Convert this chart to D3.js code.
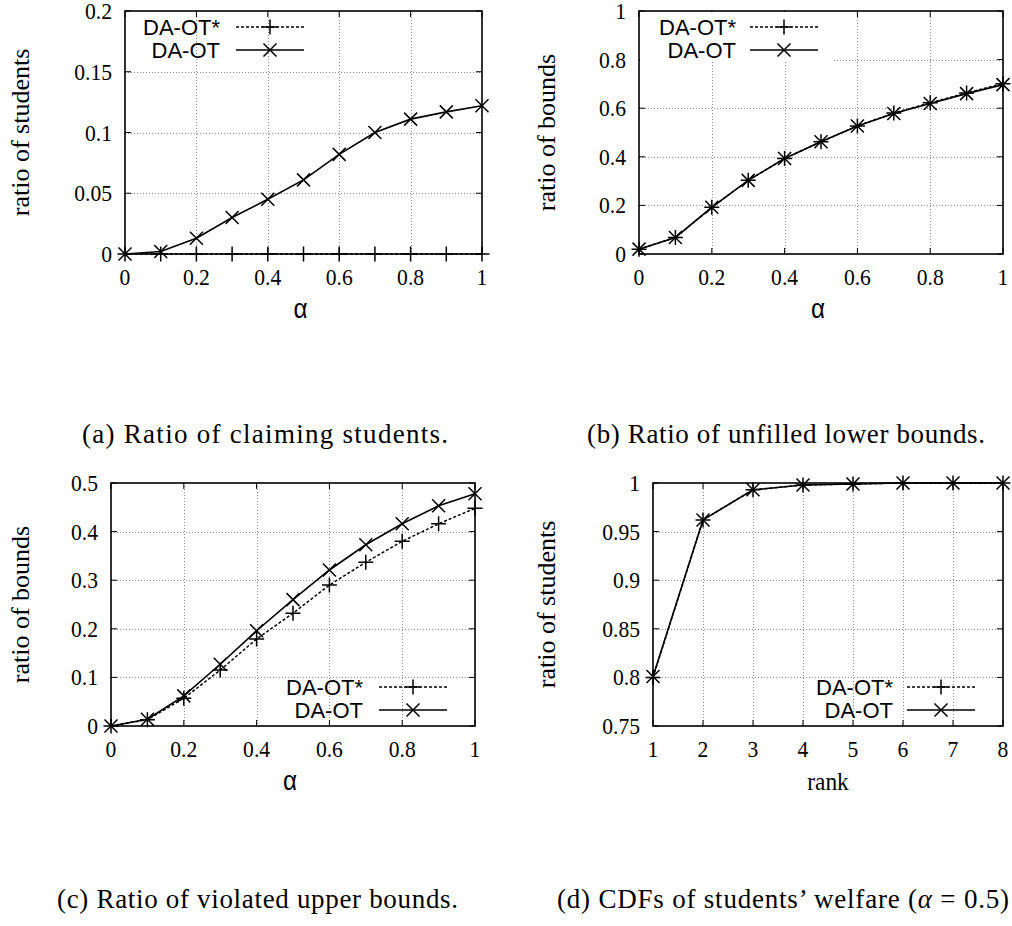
<!DOCTYPE html>
<html>
<head>
<meta charset="utf-8">
<script src="https://cdn.jsdelivr.net/npm/d3@7"></script>
<style>
  body { margin: 0; background: #fff; }
  svg { display: block; }
</style>
</head>
<body>
<div id="chart"></div>
<script>
/***********************************************************************/
//Data
/***********************************************************************/
const alphas = [0, 0.1, 0.2, 0.3, 0.4, 0.5, 0.6, 0.7, 0.8, 0.9, 1]
const ranks = [1, 2, 3, 4, 5, 6, 7, 8]

// (a) ratio of claiming students
const claimOTStar = [0, 0, 0, 0, 0, 0, 0, 0, 0, 0, 0]
const claimOT = [0, 0.002, 0.013, 0.030, 0.045, 0.061, 0.082, 0.100, 0.111, 0.117, 0.122]

// (b) ratio of unfilled lower bounds
const unfilledOTStar = [0.020, 0.068, 0.192, 0.303, 0.393, 0.462, 0.527, 0.580, 0.622, 0.663, 0.701]
const unfilledOT = [0.020, 0.068, 0.192, 0.303, 0.393, 0.462, 0.527, 0.578, 0.619, 0.660, 0.697]

// (c) ratio of violated upper bounds
const violatedOTStar = [0, 0.013, 0.057, 0.115, 0.179, 0.232, 0.290, 0.337, 0.380, 0.416, 0.448]
const violatedOT = [0, 0.014, 0.062, 0.127, 0.196, 0.260, 0.321, 0.373, 0.416, 0.453, 0.478]

// (d) CDF of students' welfare, alpha = 0.5
const cdfOTStar = [0.800, 0.962, 0.993, 0.998, 0.999, 1, 1, 1]
const cdfOT = [0.801, 0.962, 0.993, 0.998, 0.999, 1, 1, 1]

// tick labels
const alphaTicks = [0, 0.2, 0.4, 0.6, 0.8, 1]
const rankTicks = [1, 2, 3, 4, 5, 6, 7, 8]
const claimTicks = [0, 0.05, 0.1, 0.15, 0.2]
const unfilledTicks = [0, 0.2, 0.4, 0.6, 0.8, 1]
const violatedTicks = [0, 0.1, 0.2, 0.3, 0.4, 0.5]
const cdfTicks = [0.75, 0.8, 0.85, 0.9, 0.95, 1]

const seriesNames = ['DA-OT*', 'DA-OT']
const captions = [
	'(a) Ratio of claiming students.',
	'(b) Ratio of unfilled lower bounds.',
	'(c) Ratio of violated upper bounds.',
	'(d) CDFs of students\u2019 welfare ('
]

/***********************************************************************/
//Panels
/***********************************************************************/
const panels = [
	{ left: 125, right: 482, top: 11, bottom: 254, xs: alphas, star: claimOTStar, ot: claimOT,
	  xTicks: alphaTicks, yTicks: claimTicks, xTitle: '\u03b1', yTitle: 'ratio of students', yTitleX: 21,
	  legend: { end: 220, x1: 236, x2: 304, y: 27, box: false } },
	{ left: 639, right: 1003, top: 11, bottom: 254, xs: alphas, star: unfilledOTStar, ot: unfilledOT,
	  xTicks: alphaTicks, yTicks: unfilledTicks, xTitle: '\u03b1', yTitle: 'ratio of bounds', yTitleX: 547,
	  legend: { end: 736, x1: 750, x2: 818, y: 27, box: true } },
	{ left: 111, right: 475, top: 483, bottom: 726, xs: alphas, star: violatedOTStar, ot: violatedOT,
	  xTicks: alphaTicks, yTicks: violatedTicks, xTitle: '\u03b1', yTitle: 'ratio of bounds', yTitleX: 21,
	  legend: { end: 363, x1: 379, x2: 447, y: 687, box: false } },
	{ left: 653, right: 1003, top: 483, bottom: 726, xs: ranks, star: cdfOTStar, ot: cdfOT,
	  xTicks: rankTicks, yTicks: cdfTicks, xTitle: 'rank', yTitle: 'ratio of students', yTitleX: 547,
	  legend: { end: 893, x1: 907, x2: 975, y: 687, box: false } }
]

const width = 1012
const height = 926
const serif = '"Liberation Serif", "Times New Roman", serif'
const sans = '"Liberation Sans", Arial, sans-serif'

const svg = d3.select('#chart')
	.append('svg')
	.attr('width', width)
	.attr('height', height)

svg.append('rect').attr('width', width).attr('height', height).attr('fill', '#fff')

// gnuplot-ish markers
const crossPath = (x, y, r) => `M${x - r},${y - r}L${x + r},${y + r}M${x - r},${y + r}L${x + r},${y - r}`
const plusPath = (x, y, r) => `M${x - r},${y}L${x + r},${y}M${x},${y - r}L${x},${y + r}`

// horizontally squeezed text like the eps
function squeezed(g, x, y, txt, anchor, size, family) {
	return g.append('text')
		.attr('transform', `translate(${x},${y}) scale(0.9,1)`)
		.attr('text-anchor', anchor)
		.attr('font-family', family || serif)
		.attr('font-size', size + 'px')
		.attr('fill', '#000')
		.text(txt)
}

panels.forEach(p => {
	const g = svg.append('g')

	const x = d3.scaleLinear()
		.domain(d3.extent(p.xTicks))
		.range([p.left, p.right])

	const y = d3.scaleLinear()
		.domain(d3.extent(p.yTicks))
		.range([p.bottom, p.top])

	/***********************************************************************/
	//Grid
	/***********************************************************************/
	const grid = g.append('g')
		.attr('stroke', '#8a8a8a')
		.attr('stroke-width', 1)
		.attr('stroke-dasharray', '1,2')

	grid.selectAll('.gx')
		.data(p.xTicks.slice(1, -1))
		.join('line')
		.attr('x1', d => Math.round(x(d)) + 0.5)
		.attr('x2', d => Math.round(x(d)) + 0.5)
		.attr('y1', p.top)
		.attr('y2', p.bottom)

	grid.selectAll('.gy')
		.data(p.yTicks.slice(1, -1))
		.join('line')
		.attr('x1', p.left)
		.attr('x2', p.right)
		.attr('y1', d => Math.round(y(d)) + 0.5)
		.attr('y2', d => Math.round(y(d)) + 0.5)

	// small tick marks inside the frame
	const ticks = g.append('g').attr('stroke', '#000').attr('stroke-width', 1)
	p.xTicks.forEach(d => {
		ticks.append('line').attr('x1', x(d)).attr('x2', x(d)).attr('y1', p.bottom).attr('y2', p.bottom - 6)
		ticks.append('line').attr('x1', x(d)).attr('x2', x(d)).attr('y1', p.top).attr('y2', p.top + 6)
	})
	p.yTicks.forEach(d => {
		ticks.append('line').attr('x1', p.left).attr('x2', p.left + 6).attr('y1', y(d)).attr('y2', y(d))
		ticks.append('line').attr('x1', p.right).attr('x2', p.right - 6).attr('y1', y(d)).attr('y2', y(d))
	})

	/***********************************************************************/
	//Legend box (b only)
	/***********************************************************************/
	if (p.legend.box) {
		g.append('rect')
			.attr('x', p.left + 1)
			.attr('y', p.top + 1)
			.attr('width', p.legend.x2 + 15 - p.left)
			.attr('height', 50)
			.attr('fill', '#fff')
	}

	/***********************************************************************/
	//Lines
	/***********************************************************************/
	const line = d3.line()
		.x((d, i) => x(p.xs[i]))
		.y(d => y(d))

	g.append('path')
		.datum(p.star)
		.attr('fill', 'none')
		.attr('stroke', '#000')
		.attr('stroke-width', 1.5)
		.attr('stroke-dasharray', '3,2')
		.attr('d', line)

	g.append('path')
		.datum(p.ot)
		.attr('fill', 'none')
		.attr('stroke', '#000')
		.attr('stroke-width', 1.6)
		.attr('d', line)

	g.append('path')
		.attr('fill', 'none')
		.attr('stroke', '#000')
		.attr('stroke-width', 1.5)
		.attr('d', p.star.map((d, i) => plusPath(x(p.xs[i]), y(d), 7.5)).join(''))

	g.append('path')
		.attr('fill', 'none')
		.attr('stroke', '#000')
		.attr('stroke-width', 1.5)
		.attr('d', p.ot.map((d, i) => crossPath(x(p.xs[i]), y(d), 6.5)).join(''))

	/***********************************************************************/
	//Legend
	/***********************************************************************/
	const lg = g.append('g')
	seriesNames.forEach((name, i) => {
		const ly = p.legend.y + i * 23
		const mx = (p.legend.x1 + p.legend.x2) / 2
		lg.append('text')
			.attr('x', p.legend.end)
			.attr('y', ly + 7.5)
			.attr('text-anchor', 'end')
			.attr('font-family', sans)
			.attr('font-size', '22px')
			.text(name)
		lg.append('line')
			.attr('x1', p.legend.x1).attr('x2', p.legend.x2)
			.attr('y1', ly).attr('y2', ly)
			.attr('stroke', '#000')
			.attr('stroke-width', 1.5)
			.attr('stroke-dasharray', i === 0 ? '3,2' : null)
		lg.append('path')
			.attr('fill', 'none')
			.attr('stroke', '#000')
			.attr('stroke-width', 1.5)
			.attr('d', i === 0 ? plusPath(mx, ly, 7.5) : crossPath(mx, ly, 6.5))
	})

	/***********************************************************************/
	//Frame + labels
	/***********************************************************************/
	g.append('rect')
		.attr('x', p.left)
		.attr('y', p.top)
		.attr('width', p.right - p.left)
		.attr('height', p.bottom - p.top)
		.attr('fill', 'none')
		.attr('stroke', '#000')
		.attr('stroke-width', 1.6)

	p.xTicks.forEach(d => squeezed(g, x(d), p.bottom + 31, String(d), 'middle', 24))
	p.yTicks.forEach(d => squeezed(g, p.left - 13, y(d) + 8, String(d), 'end', 24))

	g.append('text')
		.attr('transform', `translate(${p.yTitleX + 8},${(p.top + p.bottom) / 2}) rotate(-90)`)
		.attr('text-anchor', 'middle')
		.attr('font-family', serif)
		.attr('font-size', '26px')
		.text(p.yTitle)

	if (p.xTitle === 'rank') {
		squeezed(g, (p.left + p.right) / 2, p.bottom + 64, p.xTitle, 'middle', 26)
	} else {
		squeezed(g, (p.left + p.right) / 2 - 3, p.bottom + 64, p.xTitle, 'middle', 27, sans)
	}
})

/***********************************************************************/
//Captions
/***********************************************************************/
// x, baseline, width of each caption in the page
const capPos = [[82, 443, 366], [587, 443, 398], [57, 908, 401], [557, 908, 452]]
captions.forEach((c, i) => {
	const t = svg.append('text')
		.attr('x', capPos[i][0])
		.attr('y', capPos[i][1])
		.attr('font-family', serif)
		.attr('font-size', '27px')
		.attr('textLength', capPos[i][2])
		.attr('lengthAdjust', 'spacing')
		.text(c)
	if (i === 3) {
		t.append('tspan').attr('font-style', 'italic').text('\u03b1')
		t.append('tspan').text(' = 0.5)')
	}
})
</script>
</body>
</html>
